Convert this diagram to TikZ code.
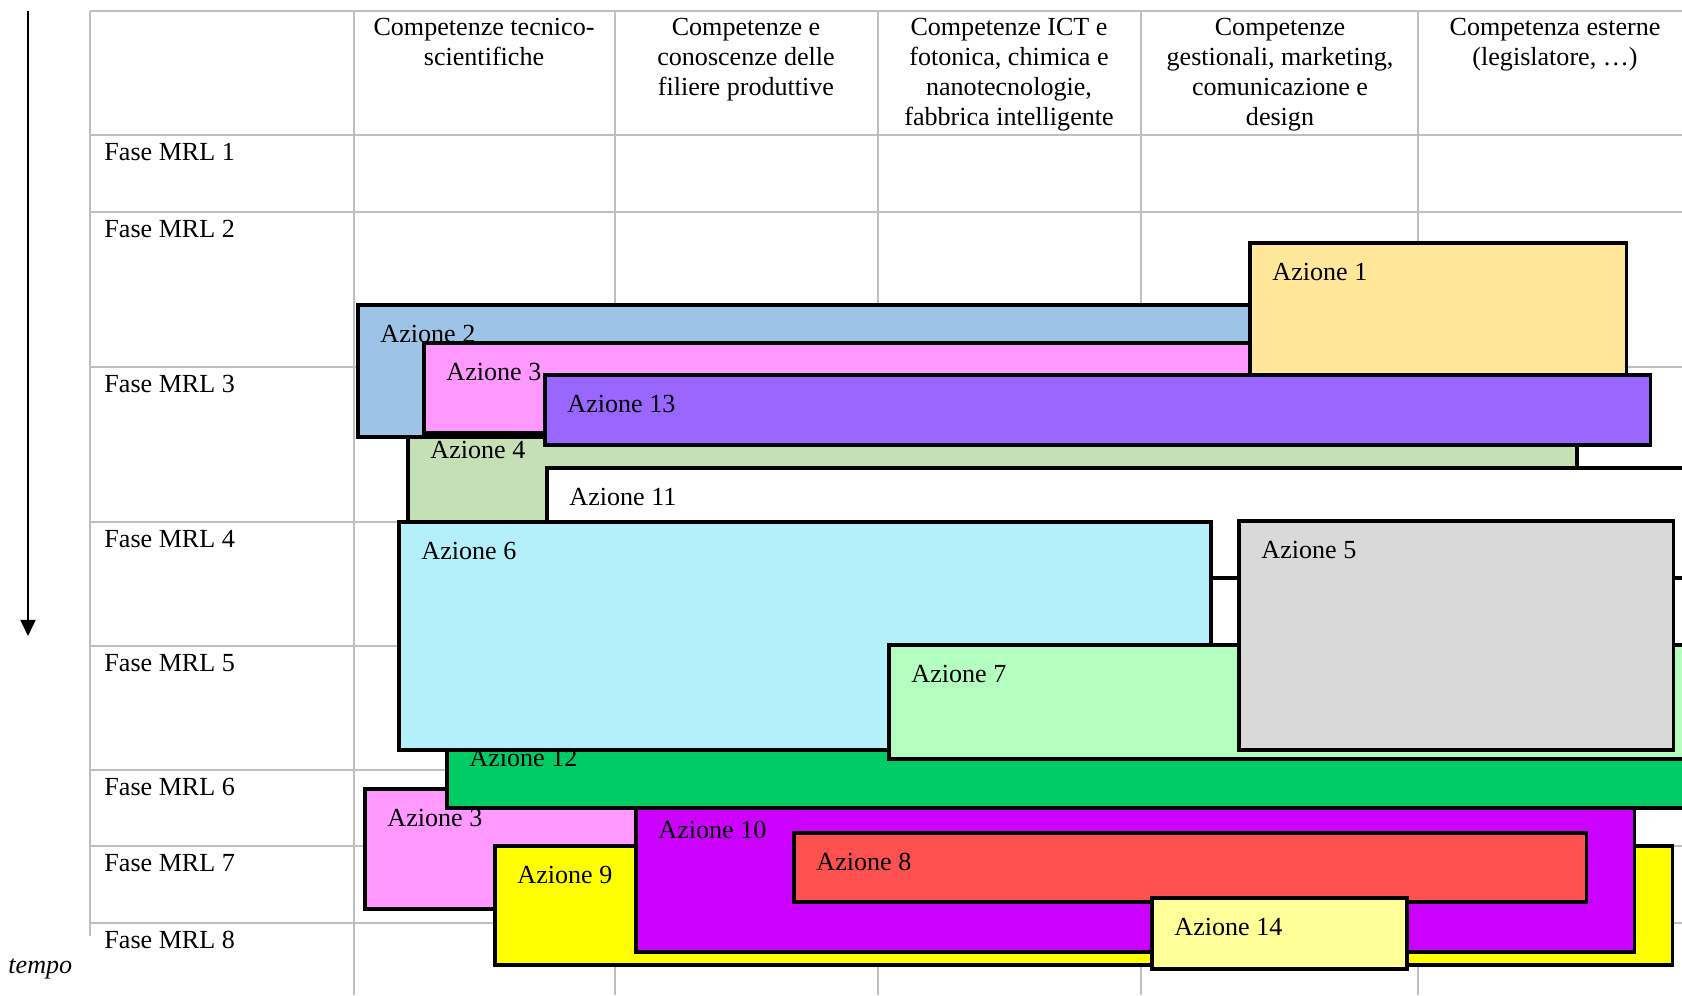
\documentclass[tikz,border=0pt]{standalone}
\usepackage{fontspec}
\setmainfont{Liberation Serif}
\usepackage{tikz}
\usetikzlibrary{arrows.meta}
\definecolor{griglia}{RGB}{191,191,191}
\definecolor{az1}{HTML}{FFE699}
\definecolor{az2}{HTML}{9DC3E6}
\definecolor{az3}{HTML}{FF99FF}
\definecolor{az4}{HTML}{C5E0B4}
\definecolor{az5}{HTML}{D9D9D9}
\definecolor{az6}{HTML}{B4F0FA}
\definecolor{az7}{HTML}{B3FFC0}
\definecolor{az8}{HTML}{FF5050}
\definecolor{az9}{HTML}{FFFF00}
\definecolor{az10}{HTML}{CC00FF}
\definecolor{az11}{HTML}{FFFFFF}
\definecolor{az12}{HTML}{00CC66}
\definecolor{az13}{HTML}{9966FF}
\definecolor{az14}{HTML}{FFFF99}
\tikzset{cella/.style={draw=griglia, line width=0.75pt}}
\tikzset{azbox/.style={draw=black, line width=1.4pt}}
\tikzset{azlab/.style={anchor=base west, inner sep=0pt}}
\tikzset{testa/.style={anchor=base, align=center, inner sep=0pt}}

\begin{document}
\begin{tikzpicture}[x=0.46pt, y=-0.46pt, font=\fontsize{12}{13.8}\selectfont]
\useasboundingbox (0,0) rectangle (1682,995);
% griglia
\foreach \y in {11,135,212,367,522,646,770,846,923} {
\draw[cella] (90,\y) -- (1682,\y);
}
\draw[cella] (90,11) -- (90,936);
\foreach \x in {354,615,878,1141,1418} {
\draw[cella] (\x,11) -- (\x,995);
}
% intestazioni (base = ultima riga)
\node[testa] (col1) at (484,65) {Competenze tecnico-\\scientifiche};
\node[testa] (col2) at (746,95) {Competenze e\\conoscenze delle\\filiere produttive};
\node[testa] (col3) at (1009,125) {Competenze ICT e\\fotonica, chimica e\\nanotecnologie,\\fabbrica intelligente};
\node[testa] (col4) at (1280,125) {Competenze\\gestionali, marketing,\\comunicazione e\\design};
\node[testa] (col5) at (1555,65) {Competenza esterne\\(legislatore, …)};
\foreach \y [count=\i] in {135,212,367,522,646,770,846,923} {
\node[azlab] (fase\i) at (104,\y+25) {Fase MRL \i};
}
% azioni, in ordine di sovrapposizione
\foreach \n/\l/\t/\r/\b [count=\k] in {4/408/421/1577/560, 2/358/305/1300/437,
  3/424/343/1300/433, 1/1250/243/1626/390, 13/545/375/1650/445, 11/547/468/1700/578,
  3/365/789/700/909, 9/495/846/1672/965, 10/636/801/1634/952, 8/794/833/1586/902,
  14/1152/898/1407/969, 12/447/729/1700/808, 6/399/522/1211/750, 7/889/645/1700/759,
  5/1239/521/1673/750} {
\draw[azbox, fill=az\n] (\l,\t) rectangle (\r,\b);
\node[azlab] (az\k) at (\l+22,\t+37) {Azione \n};
}
% tempo
\coordinate (t0) at (28,11);
\coordinate (t1) at (28,636);
\draw[line width=0.9pt, -{Triangle[width=6.9pt,length=7.4pt]}] (t0) -- (t1);
\node[azlab, font=\fontsize{12}{13.8}\selectfont\itshape] (tempo) at (8,973) {tempo};
\end{tikzpicture}
\end{document}
